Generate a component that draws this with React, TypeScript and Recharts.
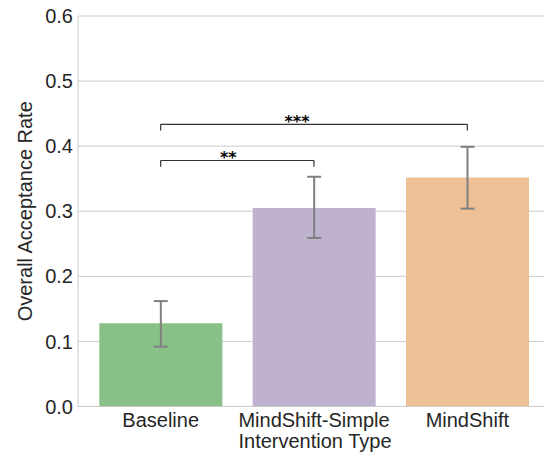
import React from "react";
import {
  BarChart,
  Bar,
  Cell,
  XAxis,
  YAxis,
  CartesianGrid,
  ErrorBar,
  ReferenceLine,
} from "recharts";

const categories = ["Baseline", "MindShift-Simple", "MindShift"];
const rates = [0.128, 0.305, 0.352];
const ciLow = [0.092, 0.259, 0.304];
const ciHigh = [0.162, 0.353, 0.399];
const yTicks = [0, 0.1, 0.2, 0.3, 0.4, 0.5, 0.6];

// significance brackets
const bracketFrom = ["Baseline", "Baseline"];
const bracketTo = ["MindShift-Simple", "MindShift"];
const bracketY = [0.378, 0.4335];
const bracketStars = ["**", "***"];
const bracketDrop = 0.0095;
const starShift = [-9, -17];

const colors = ["#88c088", "#bfb2cf", "#eec095"];
const font = "'Liberation Sans', Arial, sans-serif";

export default function App() {
  const data = categories.map((name, i) => ({
    name,
    rate: rates[i],
    err: [rates[i] - ciLow[i], ciHigh[i] - rates[i]],
  }));

  return (
    <div style={{ position: "absolute", left: 0, top: 0 }}>
      <BarChart
        width={545}
        height={456}
        data={data}
        margin={{ top: 16, right: 1, left: 0, bottom: 0 }}
        barCategoryGap="10%"
        style={{ fontFamily: font }}
      >
        <CartesianGrid vertical={false} stroke="#cccccc" />
        <XAxis
          dataKey="name"
          height={49.5}
          padding={{ left: 6, right: 0 }}
          axisLine={{ stroke: "#cccccc" }}
          tickLine={false}
          tickSize={0}
          tickMargin={6}
          tick={{ fill: "#262626", fontSize: 20 }}
          label={{
            value: "Intervention Type",
            position: "insideBottom",
            offset: 8,
            dx: 4,
            fill: "#262626",
            fontSize: 20,
          }}
        />
        <YAxis
          width={78}
          domain={[0, 0.6]}
          ticks={yTicks}
          tickFormatter={(v: number) => v.toFixed(1)}
          axisLine={{ stroke: "#cccccc" }}
          tickLine={false}
          tickSize={0}
          tickMargin={5}
          tick={{ fill: "#262626", fontSize: 20 }}
          label={{
            value: "Overall Acceptance Rate",
            angle: -90,
            position: "insideLeft",
            offset: 25,
            fill: "#262626",
            fontSize: 20,
            style: { textAnchor: "middle" },
          }}
        />
        <Bar dataKey="rate" isAnimationActive={false}>
          {data.map((d, i) => (
            <Cell key={d.name} fill={colors[i]} />
          ))}
          <ErrorBar
            dataKey="err"
            width={7}
            stroke="#808080"
            strokeWidth={2}
            isAnimationActive={false}
          />
        </Bar>
        {bracketY.map((y, i) => (
          <ReferenceLine
            key={"h" + i}
            segment={[
              { x: bracketFrom[i], y },
              { x: bracketTo[i], y },
            ]}
            stroke="#333333"
            strokeWidth={1.2}
            ifOverflow="visible"
            label={{
              value: bracketStars[i],
              position: "top",
              offset: -3,
              dx: starShift[i],
              fill: "#000000",
              fontSize: 16,
              fontWeight: "bold",
              fontFamily: "'DejaVu Sans', sans-serif",
            }}
          />
        ))}
        {bracketY.map((y, i) => (
          <ReferenceLine
            key={"l" + i}
            segment={[
              { x: bracketFrom[i], y: y - bracketDrop },
              { x: bracketFrom[i], y },
            ]}
            stroke="#333333"
            strokeWidth={1.2}
            ifOverflow="visible"
          />
        ))}
        {bracketY.map((y, i) => (
          <ReferenceLine
            key={"r" + i}
            segment={[
              { x: bracketTo[i], y: y - bracketDrop },
              { x: bracketTo[i], y },
            ]}
            stroke="#333333"
            strokeWidth={1.2}
            ifOverflow="visible"
          />
        ))}
      </BarChart>
    </div>
  );
}
